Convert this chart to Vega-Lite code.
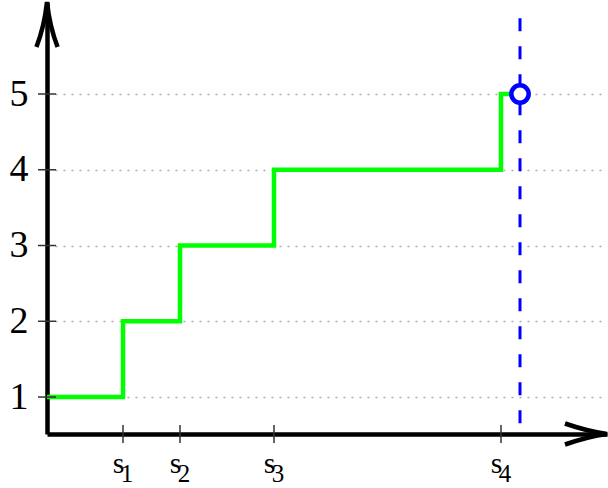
{
  "$schema": "https://vega.github.io/schema/vega-lite/v6.json",
  "width": 560,
  "height": 432,
  "autosize": {"type": "none"},
  "padding": {"left": 47, "top": 2, "right": 1, "bottom": 54},
  "background": "white",
  "config": {"view": {"stroke": null}, "font": "Liberation Serif"},
  "datasets": {
    "steps": [
      {"x": 0, "y": 1}, {"x": 76, "y": 2}, {"x": 133, "y": 3},
      {"x": 227, "y": 4}, {"x": 454, "y": 5}, {"x": 473, "y": 5}
    ],
    "ticksX": [
      {"x": 76, "sub": "1"}, {"x": 133, "sub": "2"},
      {"x": 227, "sub": "3"}, {"x": 454, "sub": "4"}
    ],
    "ticksY": [{"y": 1}, {"y": 2}, {"y": 3}, {"y": 4}, {"y": 5}],
    "marker": [{"x": 473, "y": 5, "top": 6.0, "bottom": 0.512}],
    "arrowY": [{"x": 0, "y": 5.917}],
    "arrowX": [{"x": 539, "y": 0.512}]
  },
  "layer": [
    {
      "data": {"name": "steps"},
      "mark": {"type": "line", "interpolate": "step-after", "color": "#00ff00", "strokeWidth": 4.5},
      "encoding": {
        "x": {
          "field": "x", "type": "quantitative",
          "scale": {"domain": [0, 560], "nice": false, "zero": false},
          "axis": {
            "values": [76, 133, 227, 454], "labelExpr": "'s'", "ticks": false, "grid": false,
            "domainColor": "black", "domainWidth": 4.5,
            "labelFont": "Liberation Serif", "labelFontSize": 30, "labelColor": "black",
            "labelBaseline": "alphabetic", "labelPadding": 38, "labelOffset": -5,
            "labelFlush": false, "labelOverlap": false, "labelBound": false, "title": null
          }
        },
        "y": {
          "field": "y", "type": "quantitative",
          "scale": {"domain": [0.512, 6.2145], "nice": false, "zero": false},
          "axis": {
            "values": [1, 2, 3, 4, 5], "format": "d", "ticks": false, "grid": true,
            "gridDash": [2, 6], "gridColor": "#aaaaaa", "gridWidth": 1.5,
            "domainColor": "black", "domainWidth": 4.5,
            "labelFont": "Liberation Serif", "labelFontSize": 38, "labelColor": "black",
            "labelBaseline": "middle", "labelPadding": 19,
            "labelFlush": false, "labelOverlap": false, "labelBound": false, "title": null
          }
        }
      }
    },
    {
      "data": {"name": "ticksY"},
      "mark": {"type": "tick", "orient": "horizontal", "size": 18, "thickness": 1.5, "color": "#333333", "opacity": 1},
      "encoding": {
        "x": {"datum": 0, "type": "quantitative"},
        "y": {"field": "y", "type": "quantitative"}
      }
    },
    {
      "data": {"name": "ticksX"},
      "mark": {"type": "tick", "orient": "vertical", "size": 18, "thickness": 1.5, "color": "#333333", "opacity": 1},
      "encoding": {
        "x": {"field": "x", "type": "quantitative"},
        "y": {"datum": 0.512, "type": "quantitative"}
      }
    },
    {
      "data": {"name": "ticksX"},
      "mark": {"type": "text", "font": "Liberation Serif", "fontSize": 25, "color": "black",
               "align": "center", "baseline": "alphabetic", "dx": 4, "dy": 48},
      "encoding": {
        "x": {"field": "x", "type": "quantitative"},
        "y": {"datum": 0.512, "type": "quantitative"},
        "text": {"field": "sub"}
      }
    },
    {
      "data": {"name": "marker"},
      "mark": {"type": "rule", "color": "#0000ff", "strokeWidth": 3, "strokeDash": [13, 15]},
      "encoding": {
        "x": {"field": "x", "type": "quantitative"},
        "y": {"field": "top", "type": "quantitative"},
        "y2": {"field": "bottom"}
      }
    },
    {
      "data": {"name": "marker"},
      "mark": {"type": "point", "shape": "circle", "size": 300, "filled": true,
               "fill": "white", "stroke": "#0000ff", "strokeWidth": 4.5, "opacity": 1},
      "encoding": {
        "x": {"field": "x", "type": "quantitative"},
        "y": {"field": "y", "type": "quantitative"}
      }
    },
    {
      "data": {"name": "arrowY"},
      "mark": {"type": "point", "shape": "M -0.47 1 Q -0.12 0.1 0 -1 Q 0.12 0.1 0.47 1",
               "size": 2025, "filled": false, "stroke": "black", "strokeWidth": 4.5, "opacity": 1},
      "encoding": {
        "x": {"field": "x", "type": "quantitative"},
        "y": {"field": "y", "type": "quantitative"}
      }
    },
    {
      "data": {"name": "arrowX"},
      "mark": {"type": "point", "shape": "M -1 -0.5 Q 0.1 -0.12 1 0 Q 0.1 0.12 -1 0.5",
               "size": 1764, "filled": false, "stroke": "black", "strokeWidth": 4.5, "opacity": 1},
      "encoding": {
        "x": {"field": "x", "type": "quantitative"},
        "y": {"field": "y", "type": "quantitative"}
      }
    }
  ]
}
